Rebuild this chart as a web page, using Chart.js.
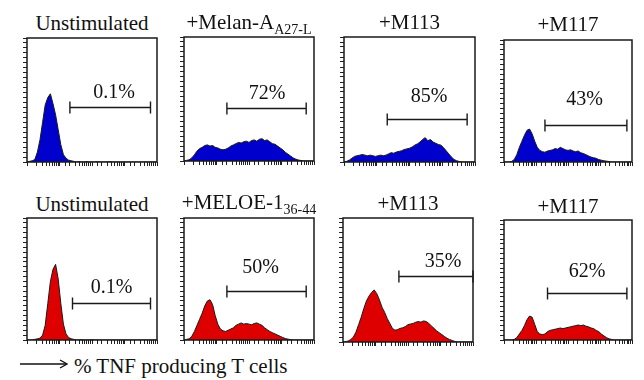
<!DOCTYPE html>
<html>
<head>
<meta charset="utf-8">
<script src="https://cdn.jsdelivr.net/npm/chart.js@4.4.0/dist/chart.umd.min.js"></script>
<style>
  body { margin: 0; background: #fff; width: 644px; height: 380px; overflow: hidden; position: relative;
         font-family: "Liberation Serif", "DejaVu Serif", serif; color: #111; }
  .panel { position: absolute; }
  .title { position: absolute; font-size: 21px; line-height: 21px; white-space: nowrap; transform: translateX(-50%); }
  .title sub { font-size: 14px; line-height: 0; vertical-align: -5px; }
  #footer { position: absolute; left: 20px; top: 356px; font-size: 21px; line-height: 21px; white-space: nowrap; }
  #footer svg { vertical-align: 4px; margin-right: 6px; }
</style>
</head>
<body>
<div id="footer"><svg width="48" height="10"><line x1="0" y1="5" x2="46" y2="5" stroke="#111" stroke-width="1.3"/><polyline points="40,1 47,5 40,9" fill="none" stroke="#111" stroke-width="1.3"/></svg>% TNF producing T cells</div>
<script>
// fluorescence channels (0 = left edge of the plot, 50 = right edge)
var channels = [0, 1, 2, 3, 4, 5, 6, 7, 8, 9, 10, 11, 12, 13, 14, 15, 16, 17, 18, 19, 20,
  21, 22, 23, 24, 25, 26, 27, 28, 29, 30, 31, 32, 33, 34, 35, 36, 37, 38, 39, 40,
  41, 42, 43, 44, 45, 46, 47, 48, 49, 50];

// event counts, % of the panel's y range
var melanUnstim = [0, 0.5, 1, 2, 8, 18, 32, 46, 52, 55, 47, 38, 26, 14, 6, 3, 1.5, 1, 0.5, 0,
  0.3, 0, 0, 0.3, 0, 0, 0, 0.3, 0, 0, 0, 0, 0.3, 0, 0, 0, 0, 0, 0, 0, 0, 0, 0, 0, 0, 0, 0, 0, 0, 0, 0];
var melanA = [0, 0.5, 1, 2.5, 5, 8, 10, 11, 12.5, 13, 12, 12.5, 11, 10.5, 9.5, 9, 9.5, 10.5, 12, 13,
  14, 15, 14.5, 15.5, 16, 15, 16.5, 17, 16, 17.5, 18, 16.5, 17, 15.5, 14, 13.5, 12, 10.5, 9, 7,
  5.5, 4, 2.5, 1.5, 0.8, 0.4, 0, 0, 0, 0, 0];
var melanM113 = [0, 0.5, 1.5, 3, 4.5, 5, 5.5, 6, 5.5, 5, 5.5, 5, 4.5, 5, 5.5, 5, 5.5, 6.5, 7.5, 7,
  8, 8.5, 9, 10, 10.5, 11, 12, 13.5, 14.5, 16, 18, 19.5, 17, 18, 16, 15, 14, 13.5, 11.5, 9,
  6.5, 4, 2, 1, 0.4, 0, 0, 0, 0, 0, 0];
var melanM117 = [0, 0, 0, 0.5, 2, 6, 12, 17, 22, 26, 27, 23, 17, 12, 9.5, 8.5, 8, 9, 9.5, 10,
  11, 10.5, 12, 11, 10, 9.5, 10, 9, 8.5, 9, 7.5, 7, 6, 5, 4, 3.5, 3, 2, 1.5, 1,
  0.7, 0.4, 0, 0, 0, 0, 0, 0, 0, 0, 0];
var meloeUnstim = [0, 0, 0, 0.5, 1, 1.5, 4, 12, 30, 48, 58, 62, 50, 30, 13, 5, 2, 1, 0.5, 0,
  0, 0.3, 0, 0, 0, 0.3, 0, 0, 0, 0, 0, 0, 0, 0, 0, 0, 0, 0, 0, 0, 0, 0, 0, 0, 0, 0, 0, 0, 0, 0, 0];
var meloe1 = [0, 0.5, 1, 3, 7, 12, 17, 22, 28, 32, 33, 29, 20, 13, 9, 7.5, 7, 8, 9, 10,
  12, 13, 14, 13, 13.5, 13, 12.5, 13.5, 14, 13, 12, 10, 8.5, 7, 6, 5, 4, 3, 2, 1.2,
  0.7, 0.3, 0, 0, 0, 0, 0, 0, 0, 0, 0];
var meloeM113 = [0, 0.3, 0.8, 2, 4, 8, 14, 20, 27, 33, 37, 40, 42, 39, 34, 28, 24, 19, 15, 11,
  9.5, 10, 11, 11.5, 12.5, 14, 14.5, 15, 16, 16.5, 16, 17, 16.5, 15, 13, 11, 9, 7.5, 6, 4.5,
  3, 2, 1.2, 0.5, 0, 0, 0, 0, 0, 0, 0];
var meloeM117 = [0, 0, 0, 0, 0.5, 2, 5, 8, 12, 17, 20, 19, 13, 7, 5, 4.5, 5, 7, 8, 8.5,
  9, 9.5, 10, 9.5, 10, 10.5, 11, 11.5, 12, 12.5, 12, 12.5, 11.5, 11, 10, 9.5, 8, 7, 5, 3.5,
  2, 1, 0.5, 0, 0, 0, 0, 0, 0, 0, 0];

var titles = ["Unstimulated", "+Melan-A", "+M113", "+M117", "Unstimulated", "+MELOE-1", "+M113", "+M117"];
var titleSubs = ["", "A27-L", "", "", "", "36-44", "", ""];
var gateLabels = ["0.1%", "72%", "85%", "43%", "0.1%", "50%", "35%", "62%"];
var gateFrom = [16.5, 16.5, 16.5, 16, 17.5, 16.5, 21.5, 17];
var gateTo = [47.5, 47, 47, 48, 47.5, 47, 50, 48];
var gateLevel = [44, 43, 34, 30, 30, 40, 53, 39];
var labelX = [33.5, 32, 32.5, 31.5, 32.5, 29.5, 38.5, 32.5];
var labelY = [56, 54.5, 52, 51, 43, 59, 64.5, 57];

var histograms = [melanUnstim, melanA, melanM113, melanM117, meloeUnstim, meloe1, meloeM113, meloeM117];

// plot boxes: left, top, width, height
var boxes = [[27, 38, 130, 124], [184, 37, 130, 124], [344, 37, 131, 125], [504, 40, 128, 122],
             [27, 218, 130, 122], [184, 218, 130, 122], [343, 218, 130, 124], [504, 220, 128, 120]];
var titleBase = [29, 28, 28, 30, 210, 208, 209, 212];

var gatePlugin = {
  id: "gate",
  afterDatasetsDraw(chart, args, opts) {
    var k = opts.k;
    var ctx = chart.ctx, xs = chart.scales.x, ys = chart.scales.y, a = chart.chartArea;
    ctx.save();
    ctx.strokeStyle = "#1a1a1a";
    ctx.lineWidth = 1.5;
    ctx.strokeRect(a.left, a.top, a.right - a.left, a.bottom - a.top);
    var x1 = xs.getPixelForValue(gateFrom[k]);
    var x2 = xs.getPixelForValue(gateTo[k]);
    var y = Math.round(ys.getPixelForValue(gateLevel[k])) + 0.5;
    ctx.lineWidth = 1.4;
    ctx.beginPath();
    ctx.moveTo(x1, y); ctx.lineTo(x2, y);
    ctx.moveTo(x1, y - 6); ctx.lineTo(x1, y + 6);
    ctx.moveTo(x2, y - 6); ctx.lineTo(x2, y + 6);
    ctx.stroke();
    ctx.fillStyle = "#111";
    ctx.font = '20px "Liberation Serif", serif';
    ctx.textAlign = "center";
    ctx.textBaseline = "middle";
    ctx.fillText(gateLabels[k], xs.getPixelForValue(labelX[k]), ys.getPixelForValue(labelY[k]));
    ctx.restore();
  }
};

histograms.forEach(function (counts, k) {
  var b = boxes[k];
  var wrap = document.createElement("div");
  wrap.className = "panel";
  wrap.style.left = (b[0] - 5) + "px";
  wrap.style.top = (b[1] - 2) + "px";
  var cv = document.createElement("canvas");
  cv.width = b[2] + 7;
  cv.height = b[3] + 7;
  wrap.appendChild(cv);
  document.body.appendChild(wrap);

  var t = document.createElement("div");
  t.className = "title";
  t.style.left = (b[0] + b[2] / 2) + "px";
  t.style.top = (titleBase[k] - 16) + "px";
  t.textContent = titles[k];
  if (titleSubs[k]) {
    var s = document.createElement("sub");
    s.textContent = titleSubs[k];
    t.appendChild(s);
  }
  document.body.appendChild(t);

  var blue = k < 4;
  new Chart(cv, {
    type: "line",
    data: {
      labels: channels,
      datasets: [{
        data: counts,
        fill: "origin",
        backgroundColor: blue ? "rgb(0,0,205)" : "rgb(222,0,0)",
        borderColor: "#1a1a1a",
        borderWidth: 1,
        pointRadius: 0,
        tension: 0
      }]
    },
    options: {
      responsive: false,
      animation: false,
      layout: { padding: { top: 2, right: 2, left: 0, bottom: 0 } },
      plugins: { legend: { display: false }, tooltip: { enabled: false }, gate: { k: k } },
      scales: {
        x: { display: false, offset: false },
        xt: {
          type: "logarithmic", position: "bottom", min: 1, max: 10000,
          ticks: { display: false },
          grid: { drawOnChartArea: false, tickLength: 4, color: "#222" },
          border: { display: false },
          afterFit: function (s) { s.height = 5; }
        },
        y: {
          min: 0, max: 100,
          ticks: { display: false, stepSize: 4 },
          grid: { drawOnChartArea: false, tickLength: 4, color: "#222" },
          border: { display: false },
          afterFit: function (s) { s.width = 5; }
        }
      }
    },
    plugins: [gatePlugin]
  });
});
</script>
</body>
</html>
